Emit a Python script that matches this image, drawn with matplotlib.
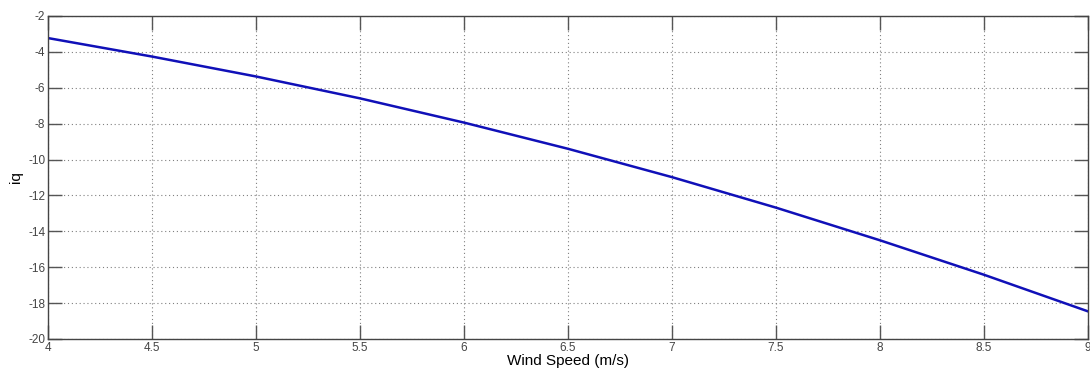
import matplotlib
matplotlib.use("Agg")
import matplotlib.pyplot as plt

wind_speed = [4.0, 4.5, 5.0, 5.5, 6.0, 6.5, 7.0, 7.5, 8.0, 8.5, 9.0]
iq = [-3.23, -4.26, -5.37, -6.59, -7.94, -9.40, -10.98, -12.68, -14.50, -16.42, -18.46]

x_ticks = [4, 4.5, 5, 5.5, 6, 6.5, 7, 7.5, 8, 8.5, 9]
x_tick_labels = ["4", "4.5", "5", "5.5", "6", "6.5", "7", "7.5", "8", "8.5", "9"]
y_ticks = [-20, -18, -16, -14, -12, -10, -8, -6, -4, -2]
y_tick_labels = ["-20", "-18", "-16", "-14", "-12", "-10", "-8", "-6", "-4", "-2"]

plt.rcParams["font.family"] = ["Liberation Sans", "DejaVu Sans"]

fig = plt.figure(figsize=(10.9, 3.72), dpi=100)
ax = fig.add_axes([48 / 1090, 33 / 372, 1040 / 1090, 323 / 372])

ax.plot(wind_speed, iq, color="#1010b8", linewidth=1.8, solid_joinstyle="round")

ax.set_xlim(4, 9)
ax.set_ylim(-20, -2)
ax.set_xticks(x_ticks)
ax.set_xticklabels(x_tick_labels)
ax.set_yticks(y_ticks)
ax.set_yticklabels(y_tick_labels)

ax.grid(True, linestyle=(0, (1, 2.5)), color="#808080", linewidth=0.8)
ax.tick_params(direction="in", length=10, width=1.0, color="#555555",
               labelsize=8.5, labelcolor="#444444", top=True, right=True, pad=2)
for s in ax.spines.values():
    s.set_color("#444444")
    s.set_linewidth(1.0)

ax.set_xlabel("Wind Speed (m/s)", fontsize=11, labelpad=0)
ax.set_ylabel("iq", fontsize=11, labelpad=4)

fig.savefig("out.png", dpi=100)
